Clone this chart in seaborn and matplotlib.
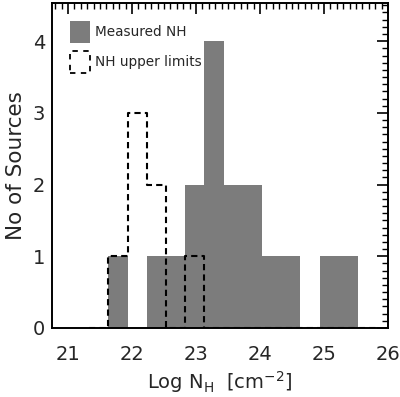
import numpy as np
import pandas as pd
import matplotlib
matplotlib.use("Agg")
import matplotlib.pyplot as plt
from matplotlib.ticker import MultipleLocator
from matplotlib.patches import Patch
import seaborn as sns

# Bin edges (log NH) and counts
bin_edges = [21.33, 21.63, 21.93, 22.23, 22.53, 22.83, 23.13, 23.43,
             23.73, 24.03, 24.33, 24.63, 24.93, 25.23, 25.53, 25.83]
measured_counts = [0, 1, 0, 1, 1, 2, 4, 2, 2, 1, 1, 0, 1, 1, 0]
upper_counts = [0, 1, 3, 2, 0, 1, 0, 0, 0, 0, 0, 0, 0, 0, 0]
x_ticks = [21, 22, 23, 24, 25, 26]
y_ticks = [0, 1, 2, 3, 4]

edges = np.array(bin_edges)
centers = (edges[:-1] + edges[1:]) / 2
df = pd.DataFrame({"lognh": centers, "measured": measured_counts, "upper": upper_counts})

sns.set_style("white")
plt.rcParams["font.family"] = ["DejaVu Sans"]
plt.rcParams["mathtext.fontset"] = "dejavusans"

fig = plt.figure(figsize=(4.0, 3.97), dpi=100)
ax = fig.add_axes([0.13, 0.174, 0.84, 0.818])

gray = "#7c7c7c"
sns.histplot(data=df, x="lognh", weights="measured", bins=list(bin_edges), element="bars",
             fill=True, color=gray, alpha=1.0, linewidth=0, ax=ax)
sns.histplot(data=df, x="lognh", weights="upper", bins=list(bin_edges), element="step",
             fill=False, color="black", linestyle=(0, (3, 2)), linewidth=1.5, ax=ax)

ax.set_xlim(20.75, 26)
ax.set_ylim(0, 4.53)
ax.set_xticks(x_ticks)
ax.set_yticks(y_ticks)
ax.xaxis.set_minor_locator(MultipleLocator(0.1))
ax.yaxis.set_minor_locator(MultipleLocator(0.1))
ax.tick_params(which="both", direction="in", top=True, right=True, color="black")
ax.tick_params(which="major", length=8, width=1.2, labelsize=14)
ax.tick_params(axis="x", which="major", pad=12)
ax.tick_params(axis="y", which="major", pad=5)
ax.tick_params(which="minor", length=4, width=1)
for s in ax.spines.values():
    s.set_color("black")
    s.set_linewidth(1.4)

ax.set_xlabel(r"Log N$_{\mathregular{H}}$  [cm$^{-2}$]", fontsize=14, labelpad=4)
ax.set_ylabel("No of Sources", fontsize=15.5, labelpad=5)

handles = [Patch(facecolor=gray, edgecolor="none", label="Measured NH"),
           Patch(facecolor="none", edgecolor="black", linestyle=(0, (3, 3)),
                 linewidth=1.3, label="NH upper limits")]
ax.legend(handles=handles, loc="upper left", frameon=False, fontsize=9.8,
          handlelength=1.48, handleheight=2.1, handletextpad=0.35,
          borderaxespad=0.9, borderpad=0.4, labelspacing=0.6)

fig.savefig("out.png", dpi=100)
